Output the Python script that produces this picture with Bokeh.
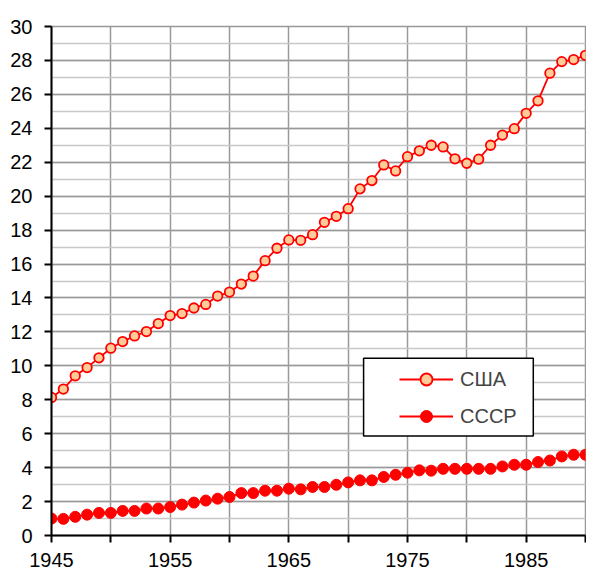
from bokeh.plotting import figure
from bokeh.models import (Range1d, FixedTicker, Legend, LegendItem, BoxAnnotation, ColumnDataSource)
from bokeh.embed import file_html
from bokeh.resources import INLINE

years = list(range(1945, 1991))
usa = [8.14, 8.63, 9.41, 9.9, 10.47, 11.04, 11.43, 11.76, 12.02, 12.49,
       12.96, 13.08, 13.41, 13.62, 14.11, 14.35, 14.82, 15.29, 16.2, 16.93,
       17.42, 17.4, 17.73, 18.46, 18.81, 19.26, 20.43, 20.92, 21.84, 21.49,
       22.33, 22.67, 23.0, 22.9, 22.2, 21.94, 22.18, 23.0, 23.6, 23.98,
       24.88, 25.62, 27.25, 27.93, 28.05, 28.3]
ussr = [1.0, 0.98, 1.1, 1.23, 1.33, 1.33, 1.45, 1.45, 1.59, 1.59,
        1.68, 1.82, 1.94, 2.06, 2.17, 2.27, 2.5, 2.5, 2.64, 2.64,
        2.76, 2.72, 2.86, 2.86, 2.99, 3.13, 3.25, 3.25, 3.45, 3.58,
        3.7, 3.84, 3.82, 3.93, 3.93, 3.93, 3.93, 3.93, 4.07, 4.17,
        4.17, 4.33, 4.42, 4.66, 4.76, 4.76]
series_names = ["США", "СССР"]
x_ticks = list(range(1945, 1991, 5))
x_labeled = [1945, 1955, 1965, 1975, 1985]
y_ticks = list(range(0, 31, 2))
y_minor = list(range(0, 31, 1))

FONT = "Liberation Sans"
RED = "#FF0000"
PEACH = "#FFCC99"

p = figure(width=586, height=569, output_backend="svg", toolbar_location=None,
           x_range=Range1d(1945, 1990), y_range=Range1d(0, 30),
           min_border_left=51, min_border_right=1, min_border_top=26, min_border_bottom=34)
p.background_fill_color = "white"
p.border_fill_color = "white"
p.outline_line_color = "#999999"
p.outline_line_width = 1.5

# axes
p.xaxis.ticker = FixedTicker(ticks=x_ticks)
p.xaxis.major_label_overrides = {t: (str(t) if t in x_labeled else "") for t in x_ticks}
p.yaxis.ticker = FixedTicker(ticks=y_ticks, minor_ticks=y_minor)
for ax in (p.xaxis[0], p.yaxis[0]):
    ax.axis_line_color = "black"
    ax.axis_line_width = 2
    ax.major_tick_line_color = "black"
    ax.major_tick_line_width = 2
    ax.major_tick_out = 7
    ax.major_tick_in = 0
    ax.minor_tick_out = 0
    ax.minor_tick_in = 0
    ax.major_label_text_font = FONT
    ax.major_label_text_font_size = "20px"
    ax.major_label_text_color = "black"
p.yaxis.major_label_standoff = 12
p.xaxis.major_label_standoff = 10

# grids
p.xgrid.ticker = FixedTicker(ticks=x_ticks)
p.xgrid.grid_line_color = "#999999"
p.xgrid.grid_line_width = 1.5
p.ygrid.ticker = FixedTicker(ticks=y_ticks, minor_ticks=y_minor)
p.ygrid.grid_line_color = "#999999"
p.ygrid.grid_line_width = 1.5
p.ygrid.minor_grid_line_color = "#c8c8c8"
p.ygrid.minor_grid_line_width = 1.5

src = ColumnDataSource(dict(x=years, usa=usa, ussr=ussr))

l1 = p.line("x", "usa", source=src, line_color=RED, line_width=1.8)
s1 = p.scatter("x", "usa", source=src, size=9.5, marker="circle",
               fill_color=PEACH, line_color=RED, line_width=1.8)
l2 = p.line("x", "ussr", source=src, line_color=RED, line_width=1.8)
s2 = p.scatter("x", "ussr", source=src, size=11, marker="circle",
               fill_color=RED, line_color=RED, line_width=1)

# legend box
box = BoxAnnotation(left=1971.3, right=1985.6, top=10.45, bottom=5.87,
                    fill_color="white", fill_alpha=1.0,
                    line_color="black", line_width=1.5, line_alpha=1.0)
p.add_layout(box)

legend = Legend(items=[LegendItem(label=series_names[0], renderers=[l1, s1]),
                       LegendItem(label=series_names[1], renderers=[l2, s2])],
                location=(348, 104), padding=0, margin=0, spacing=7,
                glyph_width=54, glyph_height=30, label_height=30, label_standoff=7,
                label_text_font=FONT, label_text_font_size="20px",
                border_line_alpha=0, background_fill_alpha=0)
p.add_layout(legend)

open("out.html", "w").write(file_html(p, INLINE))
